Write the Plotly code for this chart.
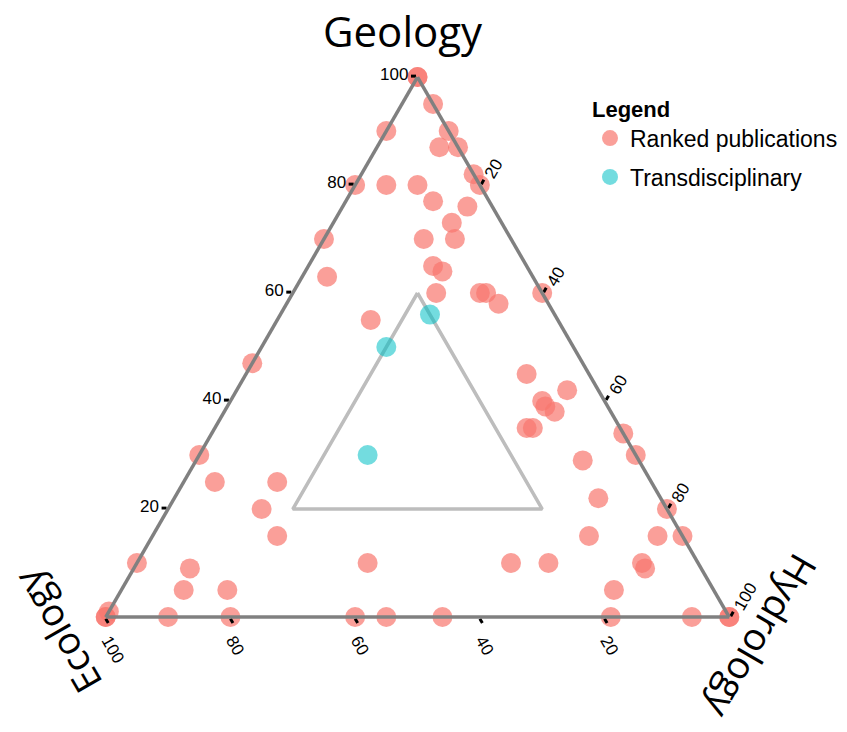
import plotly.graph_objects as go

# Ranked publications: share of Geology / Ecology / Hydrology (percent)
ranked_geology = [100, 100, 95, 90, 90, 87, 87, 82, 80, 80, 80, 80, 77, 76, 73, 70, 70, 70,
                  63, 65, 64, 60, 60, 60, 58, 60, 55, 47, 45, 42, 40, 39, 38, 35, 35, 34,
                  30, 29, 22, 20, 15, 15, 15, 10, 10, 10, 9, 5, 0, 0, 0, 0, 10, 0, 0, 0,
                  30, 25, 25, 20, 15, 10, 9, 5, 5, 0, 0, 1, 0, 0]
ranked_ecology = [0, 0, 0, 10, 0, 3, 0, 0, 0, 20, 15, 10, 9, 4, 8, 9, 14, 30,
                  33, 15, 14, 17, 10, 9, 8, 0, 30, 53, 10, 5, 10, 10, 9, 15, 14, 0,
                  0, 9, 10, 0, 0, 4, 15, 30, 24, 9, 9, 16, 19, 6, 0, 0, 53, 60, 55, 46,
                  70, 70, 60, 65, 65, 90, 82, 85, 78, 100, 100, 99, 90, 80]
ranked_hydrology = [0, 0, 5, 0, 10, 10, 13, 18, 20, 0, 5, 10, 14, 20, 19, 21, 16, 0,
                    4, 20, 22, 23, 30, 31, 34, 40, 15, 0, 45, 53, 50, 51, 53, 50, 51, 66,
                    70, 62, 68, 80, 85, 81, 70, 60, 66, 81, 82, 79, 81, 94, 100, 100, 37, 40, 45, 54,
                    0, 5, 15, 15, 20, 0, 9, 10, 17, 0, 0, 0, 10, 20]

# Transdisciplinary publications
trans_geology = [56, 50, 30]
trans_ecology = [20, 30, 43]
trans_hydrology = [24, 20, 27]

# Central reference region (closed triangle)
region_geology = [60, 20, 20, 60]
region_ecology = [20, 60, 20, 20]
region_hydrology = [20, 20, 60, 20]

tick_values = [20, 40, 60, 80, 100]

W, H = 847, 732
x0, x1 = 105, 730
y_top, y_bot = 77, 617

SANS = "Liberation Sans, Arial, sans-serif"
TITLE_FAMILY = "Open Sans, sans-serif"

fig = go.Figure()

fig.add_trace(go.Scatterternary(
    a=region_geology, b=region_ecology, c=region_hydrology,
    mode="lines", line=dict(color="#bdbdbd", width=3.5),
    showlegend=False, hoverinfo="skip", cliponaxis=False,
))

fig.add_trace(go.Scatterternary(
    a=ranked_geology, b=ranked_ecology, c=ranked_hydrology,
    mode="markers", name="Ranked publications", legendgroup="ranked",
    marker=dict(size=20, color="#F8766D", opacity=0.7, line=dict(width=0)),
    cliponaxis=False,
))

fig.add_trace(go.Scatterternary(
    a=trans_geology, b=trans_ecology, c=trans_hydrology,
    mode="markers", name="Transdisciplinary", legendgroup="trans",
    marker=dict(size=20, color="#00BFC4", opacity=0.55, line=dict(width=0)),
    cliponaxis=False,
))

axis_common = dict(
    title=dict(text=""),
    tickmode="array", tickvals=tick_values,
    ticks="outside", ticklen=5, tickwidth=2.5, tickcolor="black",
    showgrid=False, showline=True, linecolor="#808080", linewidth=3.5,
    tickfont=dict(family=SANS, size=17, color="black"),
    min=0,
)

fig.update_layout(
    width=W, height=H,
    margin=dict(l=0, r=0, t=0, b=0),
    paper_bgcolor="white",
    plot_bgcolor="white",
    ternary=dict(
        sum=100,
        bgcolor="white",
        domain=dict(x=[x0 / W, x1 / W], y=[(H - y_bot) / H, (H - y_top) / H]),
        aaxis=dict(**axis_common),
        baxis=dict(**axis_common, tickangle=60),
        caxis=dict(**axis_common, tickangle=-60),
    ),
    legend=dict(
        title=dict(text="<b>Legend</b>", font=dict(family=SANS, size=22, color="black")),
        font=dict(family=SANS, size=23, color="black"),
        x=590 / W, y=(H - 88) / H, xanchor="left", yanchor="top",
        bgcolor="rgba(0,0,0,0)", itemsizing="trace",
        tracegroupgap=6,
    ),
    annotations=[
        dict(text="Geology", x=403 / W, y=(H - 30) / H, xref="paper", yref="paper",
             showarrow=False, xanchor="center", yanchor="middle",
             font=dict(family=TITLE_FAMILY, size=42, color="black")),
        dict(text="Ecology", x=57 / W, y=(H - 632) / H, xref="paper", yref="paper",
             showarrow=False, xanchor="center", yanchor="middle", textangle=-120,
             font=dict(family=TITLE_FAMILY, size=38, color="black")),
        dict(text="Hydrology", x=762 / W, y=(H - 637) / H, xref="paper", yref="paper",
             showarrow=False, xanchor="center", yanchor="middle", textangle=120,
             font=dict(family=TITLE_FAMILY, size=38, color="black")),
    ],
)

fig.write_html("out.html")
